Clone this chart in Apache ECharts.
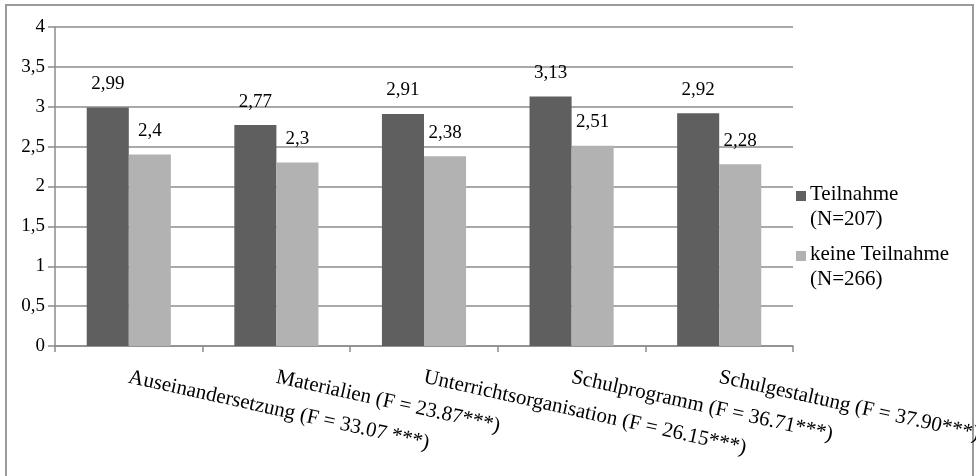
<!DOCTYPE html>
<html>
<head>
<meta charset="utf-8">
<script src="https://cdn.jsdelivr.net/npm/echarts@6/dist/echarts.min.js"></script>
<style>html,body{margin:0;padding:0;background:#fff}#c{width:976px;height:476px}</style>
</head>
<body>
<div id="c"></div>
<script>
var categories = [
  'Auseinandersetzung (F = 33.07 ***)',
  'Materialien (F = 23.87***)',
  'Unterrichtsorganisation (F = 26.15***)',
  'Schulprogramm (F = 36.71***)',
  'Schulgestaltung (F = 37.90***)'
];
var teilnahme = [2.99, 2.77, 2.91, 3.13, 2.92];
var keineTeilnahme = [2.4, 2.3, 2.38, 2.51, 2.28];
var seriesNames = ['Teilnahme\n(N=207)', 'keine Teilnahme\n(N=266)'];
var yTicks = {min: 0, max: 4, interval: 0.5};

var SERIF = 'Liberation Serif';
function fmtComma(v) { return String(v).replace('.', ','); }
function lbl(p) { return fmtComma(p.value); }

var chart = echarts.init(document.getElementById('c'));
var iconPath = 'path://M0,0L10,0L10,10L0,10Z M0,32L10,32';
chart.setOption({
  animationDuration: 300,
  backgroundColor: '#fff',
  grid: {left: 55, right: 183, top: 27, bottom: 130, containLabel: false, outerBoundsMode: 'none'},
  legend: {
    orient: 'vertical', left: 791, top: 177,
    itemWidth: 10, itemHeight: 32, itemGap: 10,
    icon: iconPath,
    textStyle: {fontFamily: SERIF, fontSize: 21, color: '#000', lineHeight: 25, padding: [0, 0, 0, -1]},
    data: seriesNames
  },
  xAxis: {
    type: 'category', data: categories,
    axisLine: {lineStyle: {color: '#8c8c8c', width: 1.5}},
    axisTick: {show: true, length: 6, lineStyle: {color: '#8c8c8c', width: 1.5}},
    axisLabel: {rotate: -12.5, margin: 31, interval: 0, fontFamily: SERIF, fontSize: 21, color: '#000'}
  },
  yAxis: {
    type: 'value', min: yTicks.min, max: yTicks.max, interval: yTicks.interval,
    axisLine: {show: true, lineStyle: {color: '#8c8c8c', width: 1.5}},
    axisTick: {show: true, length: 7, lineStyle: {color: '#8c8c8c', width: 1.5}},
    splitLine: {lineStyle: {color: '#8c8c8c', width: 1.5}},
    axisLabel: {margin: 10, fontFamily: SERIF, fontSize: 19, color: '#000', formatter: fmtComma}
  },
  series: [
    {name: seriesNames[0], type: 'bar', data: teilnahme, barGap: '0%', barCategoryGap: '43%',
     itemStyle: {color: '#5f5f5f'},
     label: {show: true, position: 'top', distance: 14, fontFamily: SERIF, fontSize: 19, color: '#000', formatter: lbl}},
    {name: seriesNames[1], type: 'bar', data: keineTeilnahme,
     itemStyle: {color: '#b2b2b2'},
     label: {show: true, position: 'top', distance: 14, fontFamily: SERIF, fontSize: 19, color: '#000', formatter: lbl}}
  ],
  graphic: [{type: 'rect', shape: {x: 6, y: 5, width: 967, height: 490}, style: {fill: 'none', stroke: '#9a9a9a', lineWidth: 2}, silent: true, z: -1}]
});
</script>
</body>
</html>
